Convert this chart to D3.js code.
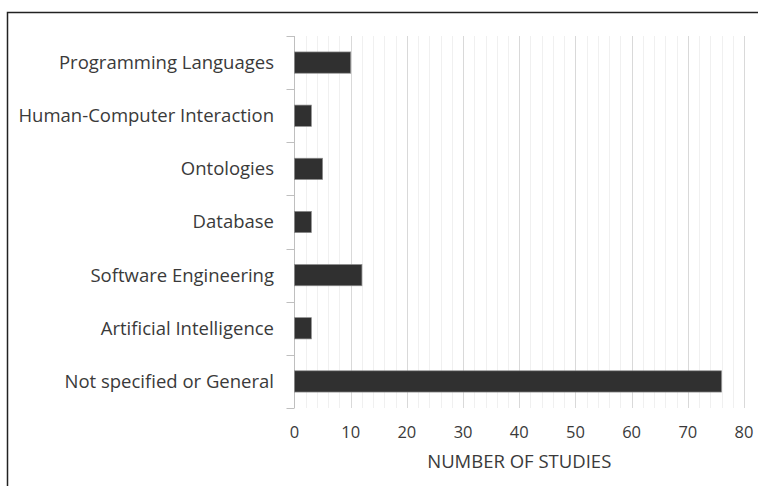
<!DOCTYPE html>
<html>
<head>
<meta charset="utf-8">
<script src="https://cdn.jsdelivr.net/npm/d3@7"></script>
<style>
  body { margin: 0; background: #fff; }
  text { font-family: "Open Sans", sans-serif; fill: #3a3a3a; }
</style>
</head>
<body>
<div class="grafico"></div>
<script>
// data
const categories = ["Programming Languages", "Human-Computer Interaction", "Ontologies",
  "Database", "Software Engineering", "Artificial Intelligence", "Not specified or General"];
const studies = [10, 3, 5, 3, 12, 3, 76];
const xTicks = [0, 10, 20, 30, 40, 50, 60, 70, 80];
const axisTitle = "NUMBER OF STUDIES";

const width = 758, height = 486;
const margin = { top: 36, right: 14, bottom: 78, left: 294.5 };

const svg = d3.select(".grafico").append("svg")
  .attr("width", width)
  .attr("height", height);

// frame
svg.append("path")
  .attr("d", "M7.5," + height + "V12.5H" + width)
  .attr("fill", "none")
  .attr("stroke", "#222")
  .attr("stroke-width", 1.5);

const x = d3.scaleLinear()
  .domain([0, 80])
  .range([margin.left, margin.left + 449.5]);

const y = d3.scaleBand()
  .domain(categories)
  .range([margin.top, height - margin.bottom])
  .paddingInner(0.6)
  .paddingOuter(0.3);

const plotTop = margin.top, plotBottom = height - margin.bottom;

// minor gridlines every 2
svg.append("g").selectAll("line")
  .data(d3.range(2, 81, 2).filter(d => d % 10 !== 0))
  .enter().append("line")
  .attr("x1", d => Math.round(x(d)) + 0.5)
  .attr("x2", d => Math.round(x(d)) + 0.5)
  .attr("y1", plotTop)
  .attr("y2", plotBottom)
  .attr("stroke", "#f0f0f0");

// major gridlines
svg.append("g").selectAll("line")
  .data(xTicks.slice(1))
  .enter().append("line")
  .attr("x1", d => Math.round(x(d)) + 0.5)
  .attr("x2", d => Math.round(x(d)) + 0.5)
  .attr("y1", plotTop)
  .attr("y2", plotBottom)
  .attr("stroke", "#d9d9d9");

// y axis line with ticks at band borders
const borders = d3.range(categories.length + 1).map(i => plotTop + i * (plotBottom - plotTop) / categories.length);
svg.append("line")
  .attr("x1", x(0)).attr("x2", x(0))
  .attr("y1", plotTop).attr("y2", plotBottom)
  .attr("stroke", "#bfbfbf");
svg.append("g").selectAll("line")
  .data(borders)
  .enter().append("line")
  .attr("x1", x(0) - 8).attr("x2", x(0))
  .attr("y1", d => Math.round(d) + 0.5)
  .attr("y2", d => Math.round(d) + 0.5)
  .attr("stroke", "#bfbfbf");

// bars
svg.append("g").selectAll("rect")
  .data(categories)
  .enter().append("rect")
  .attr("x", x(0))
  .attr("y", d => y(d))
  .attr("width", (d, i) => x(studies[i]) - x(0))
  .attr("height", y.bandwidth())
  .attr("fill", "#303030")
  .attr("stroke", "#8c8c8c")
  .attr("stroke-width", 0.7);

// category labels
svg.append("g").selectAll("text")
  .data(categories)
  .enter().append("text")
  .attr("x", 274)
  .attr("y", d => y(d) + y.bandwidth() / 2)
  .attr("dy", "0.35em")
  .attr("text-anchor", "end")
  .attr("font-size", 18.5)
  .text(d => d);

// x tick labels
svg.append("g").selectAll("text")
  .data(xTicks)
  .enter().append("text")
  .attr("x", d => x(d))
  .attr("y", 432)
  .attr("dy", "0.35em")
  .attr("text-anchor", "middle")
  .attr("font-size", 16.5)
  .text(d => d);

svg.append("text")
  .attr("x", (x(0) + x(80)) / 2)
  .attr("y", 462)
  .attr("dy", "0.35em")
  .attr("text-anchor", "middle")
  .attr("font-size", 18.5)
  .text(axisTitle);
</script>
</body>
</html>
